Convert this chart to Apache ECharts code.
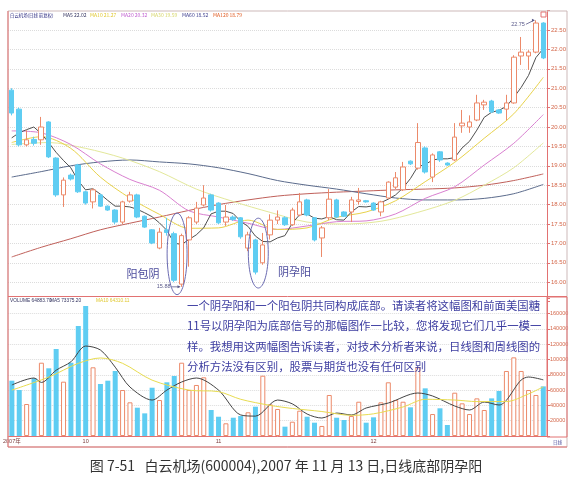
<!DOCTYPE html>
<html>
<head>
<meta charset="utf-8">
<script src="https://cdn.jsdelivr.net/npm/echarts@6.0.0/dist/echarts.min.js"></script>
<style>
  html, body { margin: 0; padding: 0; background: #fff; }
  #main { width: 583px; height: 482px; }
</style>
</head>
<body>
<div id="main"></div>
<script>
// 日期(交易日)
var dates = ['09-17','09-18','09-19','09-20','09-21','09-24','09-25','09-26','09-27','09-28',
  '10-08','10-09','10-10','10-11','10-12','10-15','10-16','10-17','10-18','10-19','10-22','10-23','10-24','10-25','10-26','10-29','10-30','10-31',
  '11-01','11-02','11-05','11-06','11-07','11-08','11-09','11-12','11-13','11-14','11-15','11-16','11-19','11-20','11-21','11-22','11-23','11-26','11-27','11-28','11-29',
  '12-03','12-04','12-05','12-06','12-07','12-10','12-11','12-12','12-13','12-14','12-17','12-18','12-19','12-20','12-21','12-24','12-25','12-26','12-27','12-28','12-31',
  '01-02','01-03','01-04'];
// 月份刻度
var monthTicks = {0: '2007年', 10: '10', 28: '11', 49: '12'};

// K线 开/收/低/高
var opens  = [20.95,20.46,19.54,19.68,19.67,20.13,19.20,18.25,18.76,19.02,
              18.33,18.07,18.25,17.96,17.86,17.55,18.09,18.25,17.70,17.35,
              16.88,17.35,17.25,15.95,17.09,17.55,17.99,18.25,18.04,17.55,
              17.68,17.66,16.88,17.09,16.50,17.22,17.60,17.66,17.48,17.73,
              18.12,17.66,17.14,17.66,18.12,17.81,17.81,18.08,18.10,18.04,
              17.81,18.17,18.45,18.38,19.12,18.94,19.46,18.71,19.36,19.07,
              19.15,20.03,20.00,20.18,20.57,20.67,20.44,20.46,20.62,21.83,
              21.83,21.93,22.68];
var closes = [20.36,19.54,19.67,19.58,20.00,19.23,18.25,18.63,18.66,18.33,
              18.04,18.38,17.96,17.86,17.55,18.07,18.25,17.68,17.42,17.01,
              17.29,17.28,16.05,17.20,17.66,17.91,18.17,17.86,17.53,17.68,
              17.62,17.17,17.22,16.26,16.96,17.60,17.68,17.48,17.86,18.07,
              17.73,17.09,17.40,18.14,17.68,17.70,18.12,18.12,18.07,17.86,
              18.07,18.58,18.69,18.97,19.05,19.60,18.84,19.28,19.15,19.02,
              19.74,20.10,20.13,20.62,20.64,20.39,20.36,20.62,21.80,21.93,
              21.93,22.68,21.78];
var lows   = [20.30,19.50,19.50,19.52,19.54,19.20,18.20,17.94,18.62,18.30,
              18.00,17.90,17.94,17.84,17.50,17.50,18.05,17.65,17.40,16.98,
              16.85,17.20,16.00,15.88,16.40,17.50,17.95,17.82,17.50,17.45,
              17.58,17.12,16.80,16.20,16.45,17.10,17.50,17.45,17.45,17.70,
              17.70,17.05,16.65,17.60,17.65,17.68,17.55,18.00,18.05,17.84,
              17.70,18.15,18.40,18.35,19.02,18.90,18.80,18.58,19.10,19.00,
              19.12,19.85,19.85,20.15,20.44,20.36,20.34,20.18,20.60,21.60,
              21.47,21.90,21.75];
var highs  = [21.00,20.50,19.92,19.75,20.26,20.15,19.22,18.70,18.80,19.05,
              18.36,18.42,18.28,17.98,17.88,18.10,18.33,18.28,17.72,17.37,
              17.40,17.66,17.30,17.25,17.70,18.07,18.50,18.28,18.06,17.99,
              17.72,17.68,17.30,17.12,17.27,17.75,17.85,17.70,17.92,18.30,
              18.15,17.68,17.45,18.40,18.15,17.83,18.20,18.43,18.12,18.06,
              18.10,18.60,18.84,19.10,19.14,20.10,19.50,19.32,19.38,19.09,
              20.10,20.44,20.30,20.83,20.70,20.70,20.46,20.83,21.85,22.32,
              21.98,22.75,22.70];

// 均线
var ma5 = [19.72,19.85,19.93,20.00,19.83,19.60,19.35,19.14,18.95,18.62,
           18.38,18.41,18.27,18.11,17.96,17.96,17.94,17.88,17.79,17.69,
           17.53,17.34,17.01,16.97,17.10,17.22,17.40,17.76,17.83,17.83,
           17.77,17.57,17.44,17.19,17.05,17.04,17.14,17.20,17.52,17.74,
           17.76,17.65,17.63,17.69,17.61,17.60,17.81,17.95,17.94,17.97,
           18.05,18.14,18.25,18.43,18.67,18.98,19.03,19.15,19.18,19.18,
           19.21,19.46,19.63,19.92,20.25,20.38,20.43,20.53,20.76,21.02,
           21.33,21.79,22.02];
var ma10 = [[0,19.60],[4,19.75],[8,19.45],[12,18.71],[16,18.17],[20,17.75],[24,17.39],[28,17.40],[32,17.60],[36,17.36],
            [40,17.40],[44,17.67],[48,17.81],[52,18.10],[56,18.59],[60,19.09],[64,19.71],[68,20.34],[72,21.28]];
var ma20 = [[0,19.90],[4,19.85],[8,19.55],[12,19.05],[16,18.65],[20,18.37],[24,17.84],[28,17.68],[32,17.52],[36,17.36],
            [40,17.45],[44,17.56],[48,17.58],[52,17.76],[56,18.16],[60,18.46],[64,19.02],[68,19.58],[72,20.32]];
var ma30 = [[0,19.55],[5,19.60],[10,19.45],[15,19.20],[20,18.85],[25,18.40],[30,18.08],[35,17.80],[40,17.55],[45,17.50],
            [50,17.57],[55,17.80],[60,18.11],[64,18.50],[68,18.95],[72,19.59]];
var ma60 = [[0,18.71],[4,18.85],[8,19.00],[12,19.10],[16,19.15],[20,19.10],[24,19.05],[28,18.95],[32,18.80],[36,18.62],
            [40,18.50],[44,18.40],[48,18.28],[52,18.17],[56,18.12],[60,18.12],[64,18.16],[68,18.28],[72,18.52]];
var ma120 = [[0,16.65],[4,16.90],[8,17.12],[12,17.35],[16,17.52],[20,17.68],[24,17.85],[28,18.00],[32,18.12],[36,18.22],
             [40,18.28],[44,18.32],[48,18.35],[52,18.38],[56,18.40],[60,18.43],[64,18.50],[68,18.62],[72,18.79]];

// 成交量
var volumes = [72300,60100,41800,75400,95800,88500,113700,71000,95800,143800,
               170000,89800,68000,72300,85000,60100,44000,37000,29600,63100,
               47000,70200,78400,95800,60100,66700,76700,34000,25200,16600,
               23900,26100,31000,38300,78800,41400,35300,12200,18700,33100,
               25200,17400,13100,53600,23900,20900,26100,44800,17400,24400,
               44000,70200,47000,44800,37500,89800,62300,28700,36200,14400,
               56600,42700,28700,49200,34000,49200,58800,85000,102800,85000,
               60100,53600,64884];
var volMa5 = [[0,66700],[3,75800],[4,70000],[6,86000],[8,97000],[10,117600],[12,112400],[14,90000],[16,64000],[19,47000],
              [21,60000],[23,70600],[25,75800],[28,60000],[31,27500],[33,26000],[36,47000],[38,42000],[40,28700],[42,23500],
              [44,30000],[46,27500],[48,36600],[51,43100],[55,56200],[57,52300],[60,39200],[62,34000],[64,44400],[66,40500],
              [69,73200],[70,77100],[72,73375]];
var volMa10 = [[0,60000],[5,77000],[9,95000],[12,102000],[15,95000],[19,73000],[24,60000],[28,58000],[31,48000],[35,40000],
               [38,36000],[42,32000],[46,27000],[49,29000],[53,38000],[56,48000],[60,47000],[63,45000],[67,45000],[70,55000],[72,64310]];

var upColor = '#ec8a6a';
var downColor = '#5fcdf2';
var frameRed = '#e27272';

var chart = echarts.init(document.getElementById('main'));

var candleData = opens.map(function (o, i) {
  return [o, closes[i], lows[i], highs[i]];
});
var volData = volumes.map(function (v, i) {
  var up = closes[i] >= opens[i];
  return {
    value: v,
    itemStyle: up ? {color: '#fff', borderColor: upColor, borderWidth: 1} : {color: downColor}
  };
});

function maLine(name, data, color, smooth, xi, yi) {
  return {
    name: name, type: 'line', data: data, xAxisIndex: xi, yAxisIndex: yi,
    showSymbol: false, symbol: 'none', smooth: smooth, silent: true,
    lineStyle: {width: 1, color: color}, z: 3
  };
}

var option = {
  animation: false,
  backgroundColor: '#fff',
  textStyle: {fontFamily: 'Liberation Sans, Noto Sans CJK SC, sans-serif'},
  grid: [
    {left: 8, right: 36, top: 10.6, height: 291},
    {left: 8, right: 36, top: 298.3, height: 137.7}
  ],
  xAxis: [
    {type: 'category', gridIndex: 0, data: dates, boundaryGap: true,
     axisLine: {show: false}, axisTick: {show: false}, axisLabel: {show: false}, splitLine: {show: false}},
    {type: 'category', gridIndex: 1, data: dates, boundaryGap: true,
     axisLine: {show: true, lineStyle: {color: frameRed}}, axisTick: {show: false},
     axisLabel: {
       interval: function (idx) { return monthTicks[idx] !== undefined; },
       formatter: function (val, idx) { return monthTicks[idx] || ''; },
       fontSize: 5.5, color: '#7a3a3a', margin: 3, align: 'center'
     },
     splitLine: {show: false}}
  ],
  yAxis: [
    {type: 'value', gridIndex: 0, position: 'right', min: 15.5, max: 23, interval: 0.5, scale: true,
     axisLine: {show: true, lineStyle: {color: frameRed}},
     axisTick: {show: true, length: 3, lineStyle: {color: frameRed}},
     axisLabel: {fontSize: 6, color: '#d4674a', margin: 4,
       formatter: function (v) { return (v <= 15.5 || v >= 23) ? '' : v.toFixed(2); }},
     splitLine: {show: true, showMinLine: false, showMaxLine: false, lineStyle: {color: '#dcdcdc', type: 'dotted', width: 1}}},
    {type: 'value', gridIndex: 1, position: 'right', min: 0, max: 180000, interval: 20000,
     axisLine: {show: true, lineStyle: {color: frameRed}},
     axisTick: {show: true, length: 3, lineStyle: {color: frameRed}},
     axisLabel: {fontSize: 5.5, color: '#d4674a', margin: 3,
       formatter: function (v) { return (v === 0 || v === 180000) ? '' : String(v); }},
     splitLine: {show: true, showMinLine: false, showMaxLine: false, lineStyle: {color: '#dcdcdc', type: 'dotted', width: 1}}}
  ],
  series: [
    maLine('MA120', ma120, '#c0605a', 0.3, 0, 0),
    maLine('MA60', ma60, '#5b6b8c', 0.3, 0, 0),
    maLine('MA30', ma30, '#e3e89a', 0.3, 0, 0),
    maLine('MA20', ma20, '#d97fd0', 0.3, 0, 0),
    maLine('MA10', ma10, '#e8d24a', 0.3, 0, 0),
    maLine('MA5', ma5, '#505050', false, 0, 0),
    {
      name: 'K', type: 'candlestick', data: candleData, xAxisIndex: 0, yAxisIndex: 0,
      barWidth: 5, z: 4,
      itemStyle: {color: '#fff', color0: downColor, borderColor: upColor, borderColor0: downColor, borderWidth: 1}
    },
    {
      name: 'VOLUME', type: 'bar', data: volData, xAxisIndex: 1, yAxisIndex: 1, barWidth: 5, z: 2
    },
    maLine('VMA5', volMa5, '#444444', 0.3, 1, 1),
    maLine('VMA10', volMa10, '#e8dc50', 0.3, 1, 1)
  ]
};
chart.setOption(option);

// 注释
function px(i, v) { return chart.convertToPixel({gridIndex: 0}, [i, v]); }
var band = px(1, 20)[0] - px(0, 20)[0];
var g = [];
var cjk = 'Noto Sans CJK SC, sans-serif';

// 边框
g.push({type: 'rect', z: 100, shape: {x: 8, y: 11, width: 559, height: 436}, style: {fill: 'none', stroke: '#cdb9b9', lineWidth: 1}});
g.push({type: 'line', z: 100, shape: {x1: 8, y1: 11, x2: 8, y2: 447}, style: {stroke: frameRed, lineWidth: 1}});
g.push({type: 'line', z: 100, shape: {x1: 8, y1: 296.5, x2: 567, y2: 296.5}, style: {stroke: frameRed, lineWidth: 1}});
g.push({type: 'line', z: 100, shape: {x1: 8, y1: 447, x2: 567, y2: 447}, style: {stroke: frameRed, lineWidth: 1}});
g.push({type: 'rect', z: 100, shape: {x: 547, y: 297, width: 20, height: 140}, style: {fill: 'none', stroke: frameRed, lineWidth: 1}});
g.push({type: 'rect', z: 100, shape: {x: 541, y: 12, width: 5, height: 5}, style: {fill: 'none', stroke: frameRed, lineWidth: 1}});
g.push({type: 'text', z: 100, style: {text: '日线', x: 553, y: 442, fontSize: 4.5, fill: '#4a4a9a', fontFamily: cjk, verticalAlign: 'middle'}});

// 标题行
var head = [
  ['白云机场(日线 前复权)', 10, '#2a2a80', 4.4],
  ['MA5 22.02', 63, '#33335f', 5],
  ['MA10 21.27', 90, '#e0c830', 5],
  ['MA20 20.32', 121, '#c060d0', 5],
  ['MA30 19.59', 151, '#d6d66a', 5],
  ['MA60 18.52', 182, '#404090', 5],
  ['MA120 18.79', 213, '#e05a20', 5]
];
head.forEach(function (h) {
  g.push({type: 'text', z: 100, style: {text: h[0], x: h[1], y: 15.5, fontSize: h[3], fill: h[2], fontFamily: cjk, verticalAlign: 'middle'}});
});
var vhead = [
  ['VOLUME 64883.70', 10, '#33335f'],
  ['MA5 73375.20', 50, '#33335f'],
  ['MA10 64310.11', 96, '#e0c830']
];
vhead.forEach(function (h) {
  g.push({type: 'text', z: 100, style: {text: h[0], x: h[1], y: 300.5, fontSize: 4.8, fill: h[2], verticalAlign: 'middle'}});
});

// 椭圆
function ellipseAt(i, v, topV, rxBands) {
  var c = px(i, v), t = px(i, topV);
  g.push({type: 'ellipse', z: 100, shape: {cx: c[0] + band * 0.4, cy: c[1], rx: band * rxBands, ry: c[1] - t[1]},
          style: {fill: 'none', stroke: '#6b6bb2', lineWidth: 1}});
}
ellipseAt(22, 16.73, 17.78, 1.35);
ellipseAt(33, 16.75, 17.65, 1.35);

// 形态文字
var p1 = px(18, 16.21), p2 = px(38, 16.26);
g.push({type: 'text', z: 100, style: {text: '阳包阴', x: p1[0] - band * 0.2, y: p1[1], fontSize: 11, fill: '#4b4b9c', fontFamily: cjk, align: 'center', verticalAlign: 'middle'}});
g.push({type: 'text', z: 100, style: {text: '阴孕阳', x: p2[0] + band * 0.3, y: p2[1], fontSize: 11, fill: '#4b4b9c', fontFamily: cjk, align: 'center', verticalAlign: 'middle'}});

// 最低/最高价标记
function priceTag(i, v, dy) {
  var p = px(i, v);
  var ty = p[1] + dy;
  g.push({type: 'line', z: 100, shape: {x1: p[0] - 10, y1: ty, x2: p[0] - 2, y2: p[1]}, style: {stroke: '#5a5a8a', lineWidth: 0.8}});
  g.push({type: 'polygon', z: 100, shape: {points: [[p[0] - 1, p[1]], [p[0] - 4, p[1] - 1.5], [p[0] - 4, p[1] + 1.5]]}, style: {fill: '#5a5a8a'}});
  g.push({type: 'text', z: 100, style: {text: v.toFixed(2), x: p[0] - 11, y: ty, fontSize: 5.5, fill: '#5a5a8a', align: 'right', verticalAlign: 'middle'}});
}
priceTag(23, 15.88, 0);
priceTag(71, 22.75, 4);

// 说明文字
var para = [
  '一个阴孕阳和一个阳包阴共同构成底部。请读者将这幅图和前面美国糖',
  '11号以阴孕阳为底部信号的那幅图作一比较，您将发现它们几乎一模一',
  '样。我想用这两幅图告诉读者，对技术分析者来说，日线图和周线图的',
  '分析方法没有区别，股票与期货也没有任何区别'
];
var paraY = [305.5, 326, 346.5, 367];
para.forEach(function (t, k) {
  g.push({type: 'text', z: 100, style: {text: t, x: 187, y: paraY[k], fontSize: 11.4, fill: '#3c3ca0', fontFamily: cjk, verticalAlign: 'middle'}});
});

// 图注
g.push({type: 'text', z: 100, style: {text: '图 7-51   白云机场(600004),2007 年 11 月 13 日,日线底部阴孕阳',
  x: 286, y: 466, fontSize: 14, fill: '#333333', fontFamily: cjk, align: 'center', verticalAlign: 'middle'}});

chart.setOption({graphic: g});
</script>
</body>
</html>
